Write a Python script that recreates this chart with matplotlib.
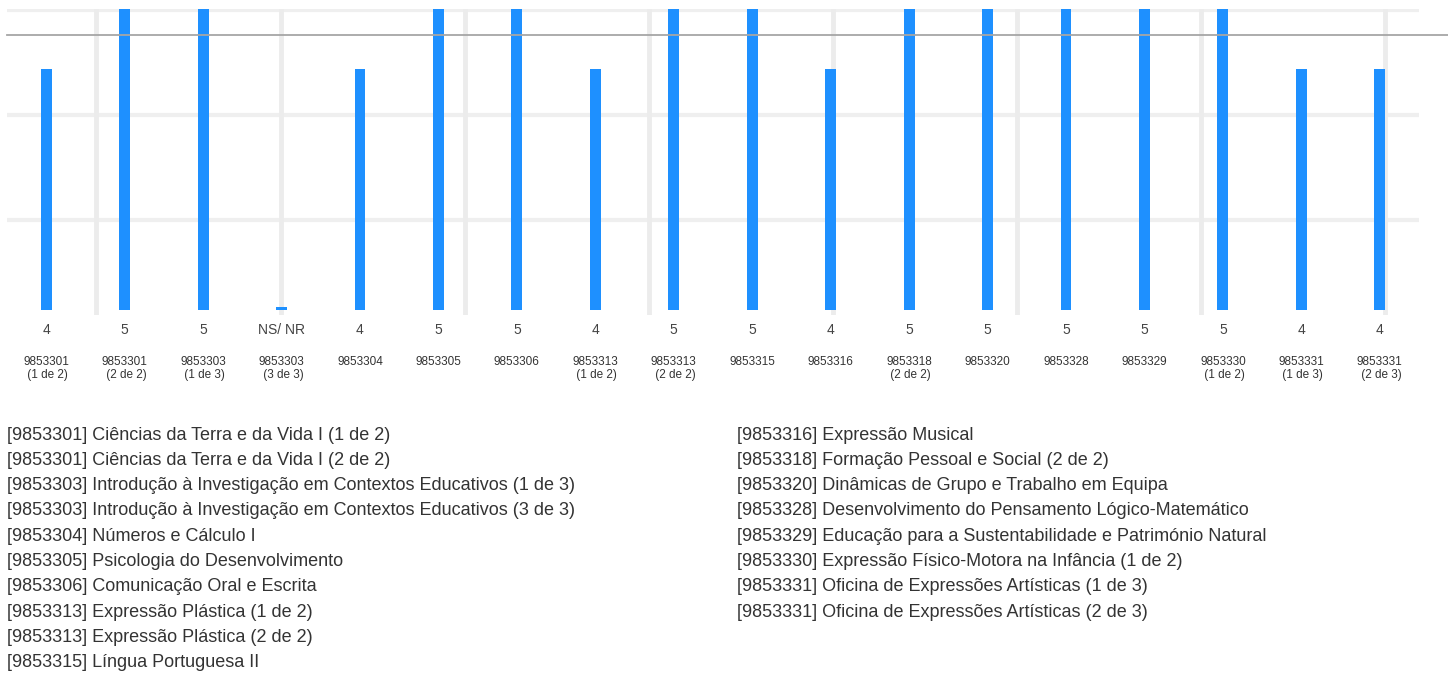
import matplotlib
matplotlib.use("Agg")
import matplotlib.pyplot as plt
import matplotlib.transforms as mtransforms

plt.rcParams['font.family'] = ['Liberation Sans', 'DejaVu Sans']

categories = ["9853301\n (1 de 2)", "9853301\n (2 de 2)", "9853303\n (1 de 3)", "9853303\n (3 de 3)",
              "9853304", "9853305", "9853306", "9853313\n (1 de 2)", "9853313\n (2 de 2)", "9853315",
              "9853316", "9853318\n (2 de 2)", "9853320", "9853328", "9853329", "9853330\n (1 de 2)",
              "9853331\n (1 de 3)", "9853331\n (2 de 3)"]
values = [4, 5, 5, 0.05, 4, 5, 5, 4, 5, 5, 4, 5, 5, 5, 5, 5, 4, 4]
value_labels = ["4", "5", "5", "NS/ NR", "4", "5", "5", "4", "5", "5", "4", "5", "5", "5", "5", "5", "4", "4"]
mean_line = 4.57
hgrid = [4.98, 3.24, 1.49]
vgrid = [0.64, 2.987, 5.334, 7.681, 10.028, 12.375, 14.722, 17.069]

legend_left = [
    "[9853301] Ciências da Terra e da Vida I (1 de 2)",
    "[9853301] Ciências da Terra e da Vida I (2 de 2)",
    "[9853303] Introdução à Investigação em Contextos Educativos (1 de 3)",
    "[9853303] Introdução à Investigação em Contextos Educativos (3 de 3)",
    "[9853304] Números e Cálculo I",
    "[9853305] Psicologia do Desenvolvimento",
    "[9853306] Comunicação Oral e Escrita",
    "[9853313] Expressão Plástica (1 de 2)",
    "[9853313] Expressão Plástica (2 de 2)",
    "[9853315] Língua Portuguesa II",
]
legend_right = [
    "[9853316] Expressão Musical",
    "[9853318] Formação Pessoal e Social (2 de 2)",
    "[9853320] Dinâmicas de Grupo e Trabalho em Equipa",
    "[9853328] Desenvolvimento do Pensamento Lógico-Matemático",
    "[9853329] Educação para a Sustentabilidade e Património Natural",
    "[9853330] Expressão Físico-Motora na Infância (1 de 2)",
    "[9853331] Oficina de Expressões Artísticas (1 de 3)",
    "[9853331] Oficina de Expressões Artísticas (2 de 3)",
]

W, H = 1448, 675
fig = plt.figure(figsize=(W / 100, H / 100), dpi=100)
ax = fig.add_axes([7 / W, 1 - 315 / H, (1419 - 7) / W, (315 - 9) / H])

x = list(range(len(categories)))
ax.bar(x, values, width=0.14, color="#1e90ff", zorder=3)
ax.set_xlim(-0.5, 17.5)
ax.set_ylim(-0.083, 5.0)

for g in hgrid:
    ax.axhline(g, color="#efefef", lw=3, zorder=1)
for g in vgrid:
    ax.axvline(g, color="#ececec", lw=3.5, zorder=1)

ax.axhline(mean_line, xmin=0, xmax=(W - 7) / (1419 - 7), color="#a6a6a6", lw=1.3,
           clip_on=False, zorder=4)

for s in ax.spines.values():
    s.set_visible(False)
ax.set_xticks([])
ax.set_yticks([])

trans = mtransforms.blended_transform_factory(ax.transData, fig.transFigure)
for xi, lab, cat in zip(x, value_labels, categories):
    ax.text(xi, 1 - 330 / H, lab, transform=trans, ha="center", va="center",
            fontsize=10, color="#444444")
    ax.text(xi, 1 - 356 / H, cat, transform=trans, ha="center", va="top",
            fontsize=8.5, color="#333333", linespacing=1.15)

for i, t in enumerate(legend_left):
    fig.text(7 / W, 1 - (435 + 25.3 * i) / H, t, ha="left", va="center",
             fontsize=13, color="#333333")
for i, t in enumerate(legend_right):
    fig.text(737 / W, 1 - (435 + 25.3 * i) / H, t, ha="left", va="center",
             fontsize=13, color="#333333")

fig.savefig("out.png", dpi=100, facecolor="white")
